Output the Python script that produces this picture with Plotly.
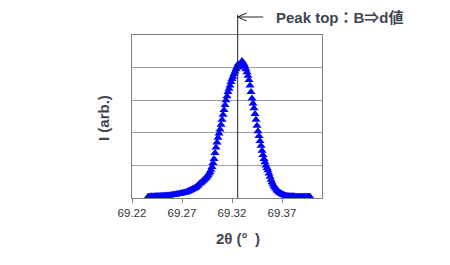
import plotly.graph_objects as go

# 2theta (deg) scan points and intensity (arb.)
two_theta = [
    69.236, 69.237, 69.238, 69.239, 69.240, 69.241, 69.242, 69.243, 69.244, 69.245,
    69.246, 69.247, 69.248, 69.249, 69.250, 69.251, 69.252, 69.253, 69.254, 69.255,
    69.256, 69.257, 69.258, 69.259, 69.260, 69.261, 69.262, 69.263, 69.264, 69.265,
    69.266, 69.267, 69.268, 69.269, 69.270, 69.271, 69.272, 69.273, 69.274, 69.275,
    69.276, 69.277, 69.278, 69.279, 69.280, 69.281, 69.282, 69.283, 69.284, 69.285,
    69.286, 69.287, 69.288, 69.289, 69.290, 69.291, 69.292, 69.293, 69.294, 69.295,
    69.296, 69.297, 69.298, 69.299, 69.300, 69.301, 69.302, 69.303, 69.304, 69.305,
    69.306, 69.307, 69.308, 69.309, 69.310, 69.311, 69.312, 69.313, 69.314, 69.315,
    69.316, 69.317, 69.318, 69.319, 69.320, 69.321, 69.322, 69.323, 69.324, 69.325,
    69.326, 69.327, 69.328, 69.329, 69.330, 69.331, 69.332, 69.333, 69.334, 69.335,
    69.336, 69.337, 69.338, 69.339, 69.340, 69.341, 69.342, 69.343, 69.344, 69.345,
    69.346, 69.347, 69.348, 69.349, 69.350, 69.351, 69.352, 69.353, 69.354, 69.355,
    69.356, 69.357, 69.358, 69.359, 69.360, 69.361, 69.362, 69.363, 69.364, 69.365,
    69.366, 69.367, 69.368, 69.369, 69.370, 69.371, 69.372, 69.373, 69.374, 69.375,
    69.376, 69.377, 69.378, 69.379, 69.380, 69.381, 69.382, 69.383, 69.384, 69.385,
    69.386, 69.387, 69.388, 69.389, 69.390, 69.391, 69.392, 69.393, 69.394, 69.395,
    69.396, 69.397, 69.398,
]
intensity = [
    0.04, 0.04, 0.04, 0.05, 0.05, 0.04, 0.05, 0.05, 0.05, 0.06,
    0.06, 0.05, 0.06, 0.06, 0.06, 0.07, 0.07, 0.07, 0.07, 0.08,
    0.08, 0.08, 0.08, 0.09, 0.09, 0.10, 0.10, 0.11, 0.11, 0.12,
    0.12, 0.13, 0.13, 0.14, 0.15, 0.15, 0.16, 0.17, 0.18, 0.19,
    0.20, 0.22, 0.23, 0.25, 0.26, 0.28, 0.29, 0.31, 0.33, 0.36,
    0.38, 0.42, 0.45, 0.47, 0.50, 0.53, 0.56, 0.59, 0.62, 0.66,
    0.70, 0.75, 0.80, 0.87, 0.95, 1.07, 1.20, 1.38, 1.55, 1.70,
    1.85, 1.98, 2.10, 2.25, 2.40, 2.55, 2.70, 2.85, 3.00, 3.12,
    3.25, 3.35, 3.45, 3.56, 3.65, 3.72, 3.80, 3.88, 3.95, 4.02,
    4.10, 4.00, 4.05, 4.12, 4.20, 4.15, 4.10, 4.03, 3.95, 3.86,
    3.75, 3.62, 3.45, 3.25, 3.05, 2.90, 2.75, 2.58, 2.40, 2.22,
    2.05, 1.90, 1.75, 1.60, 1.45, 1.32, 1.20, 1.10, 1.00, 0.92,
    0.85, 0.75, 0.65, 0.56, 0.48, 0.42, 0.36, 0.32, 0.28, 0.24,
    0.21, 0.18, 0.16, 0.14, 0.12, 0.10, 0.09, 0.08, 0.07, 0.06,
    0.06, 0.05, 0.05, 0.05, 0.05, 0.05, 0.05, 0.04, 0.04, 0.04,
    0.04, 0.04, 0.04, 0.04, 0.04, 0.04, 0.04, 0.04, 0.04, 0.04,
    0.04, 0.04, 0.04,
]
tick_vals = [69.22, 69.27, 69.32, 69.37]
tick_text = ["69.22", "69.27", "69.32", "69.37"]
peak_pos = 69.3257
x_title = "2θ (°\u2002)"
y_title = "I (arb.)"
note = "Peak top：B⇒d値"

FONT = "Liberation Sans, Arial, Noto Sans CJK JP, sans-serif"
TXT = "#404650"
LINE = "#222222"

fig = go.Figure()
fig.add_trace(go.Scatter(
    x=two_theta, y=intensity, mode="markers",
    marker=dict(symbol="triangle-up", size=8, color="#0000ff", line=dict(width=0)),
    hoverinfo="skip", showlegend=False,
))

# vertical peak line extending above plot
fig.add_shape(type="line", xref="x", yref="paper", x0=peak_pos, x1=peak_pos,
              y0=0, y1=1.125, line=dict(color=LINE, width=1))
# arrow shaft
fig.add_shape(type="line", xref="x", yref="paper", x0=peak_pos, x1=peak_pos + 0.0255,
              y0=1.1104, y1=1.1104, line=dict(color=LINE, width=1))
# arrow head
fig.add_shape(type="line", xref="x", yref="paper", x0=peak_pos, x1=peak_pos + 0.009,
              y0=1.1104, y1=1.135, line=dict(color=LINE, width=1))
fig.add_shape(type="line", xref="x", yref="paper", x0=peak_pos, x1=peak_pos + 0.009,
              y0=1.1104, y1=1.086, line=dict(color=LINE, width=1))

fig.add_annotation(text="<b>" + note + "</b>", xref="paper", yref="paper",
                   x=(274 - 132) / 190, y=1.1104, xanchor="left", yanchor="middle",
                   showarrow=False, font=dict(family=FONT, size=15, color=TXT))
fig.add_annotation(text="<b>" + x_title + "</b>", xref="paper", yref="paper",
                   x=(238 - 132) / 190, y=(198 - 239) / 163, xanchor="center", yanchor="middle",
                   showarrow=False, font=dict(family=FONT, size=15, color=TXT))
fig.add_annotation(text="<b>" + y_title + "</b>", xref="paper", yref="paper",
                   x=(103.5 - 132) / 190, y=(198 - 118.5) / 163, xanchor="center", yanchor="middle",
                   textangle=-90, showarrow=False, font=dict(family=FONT, size=15, color=TXT))

fig.update_layout(
    width=450, height=265,
    margin=dict(l=132, r=128, t=35, b=67),
    paper_bgcolor="white", plot_bgcolor="white",
    font=dict(family=FONT, size=11, color="#333333"),
    xaxis=dict(range=[69.22, 69.41], tickvals=tick_vals, ticktext=tick_text,
               showgrid=False, zeroline=False, showline=True, mirror=True,
               linecolor="#808080", linewidth=1, ticks="outside", ticklen=4,
               tickcolor="#808080", tickfont=dict(size=11.5, color="#333333")),
    yaxis=dict(range=[0, 5], dtick=1, showticklabels=False, showgrid=True,
               gridcolor="#a0a0a0", gridwidth=1, zeroline=False, showline=True,
               mirror=True, linecolor="#808080", linewidth=1, ticks=""),
)

fig.write_html("out.html")
